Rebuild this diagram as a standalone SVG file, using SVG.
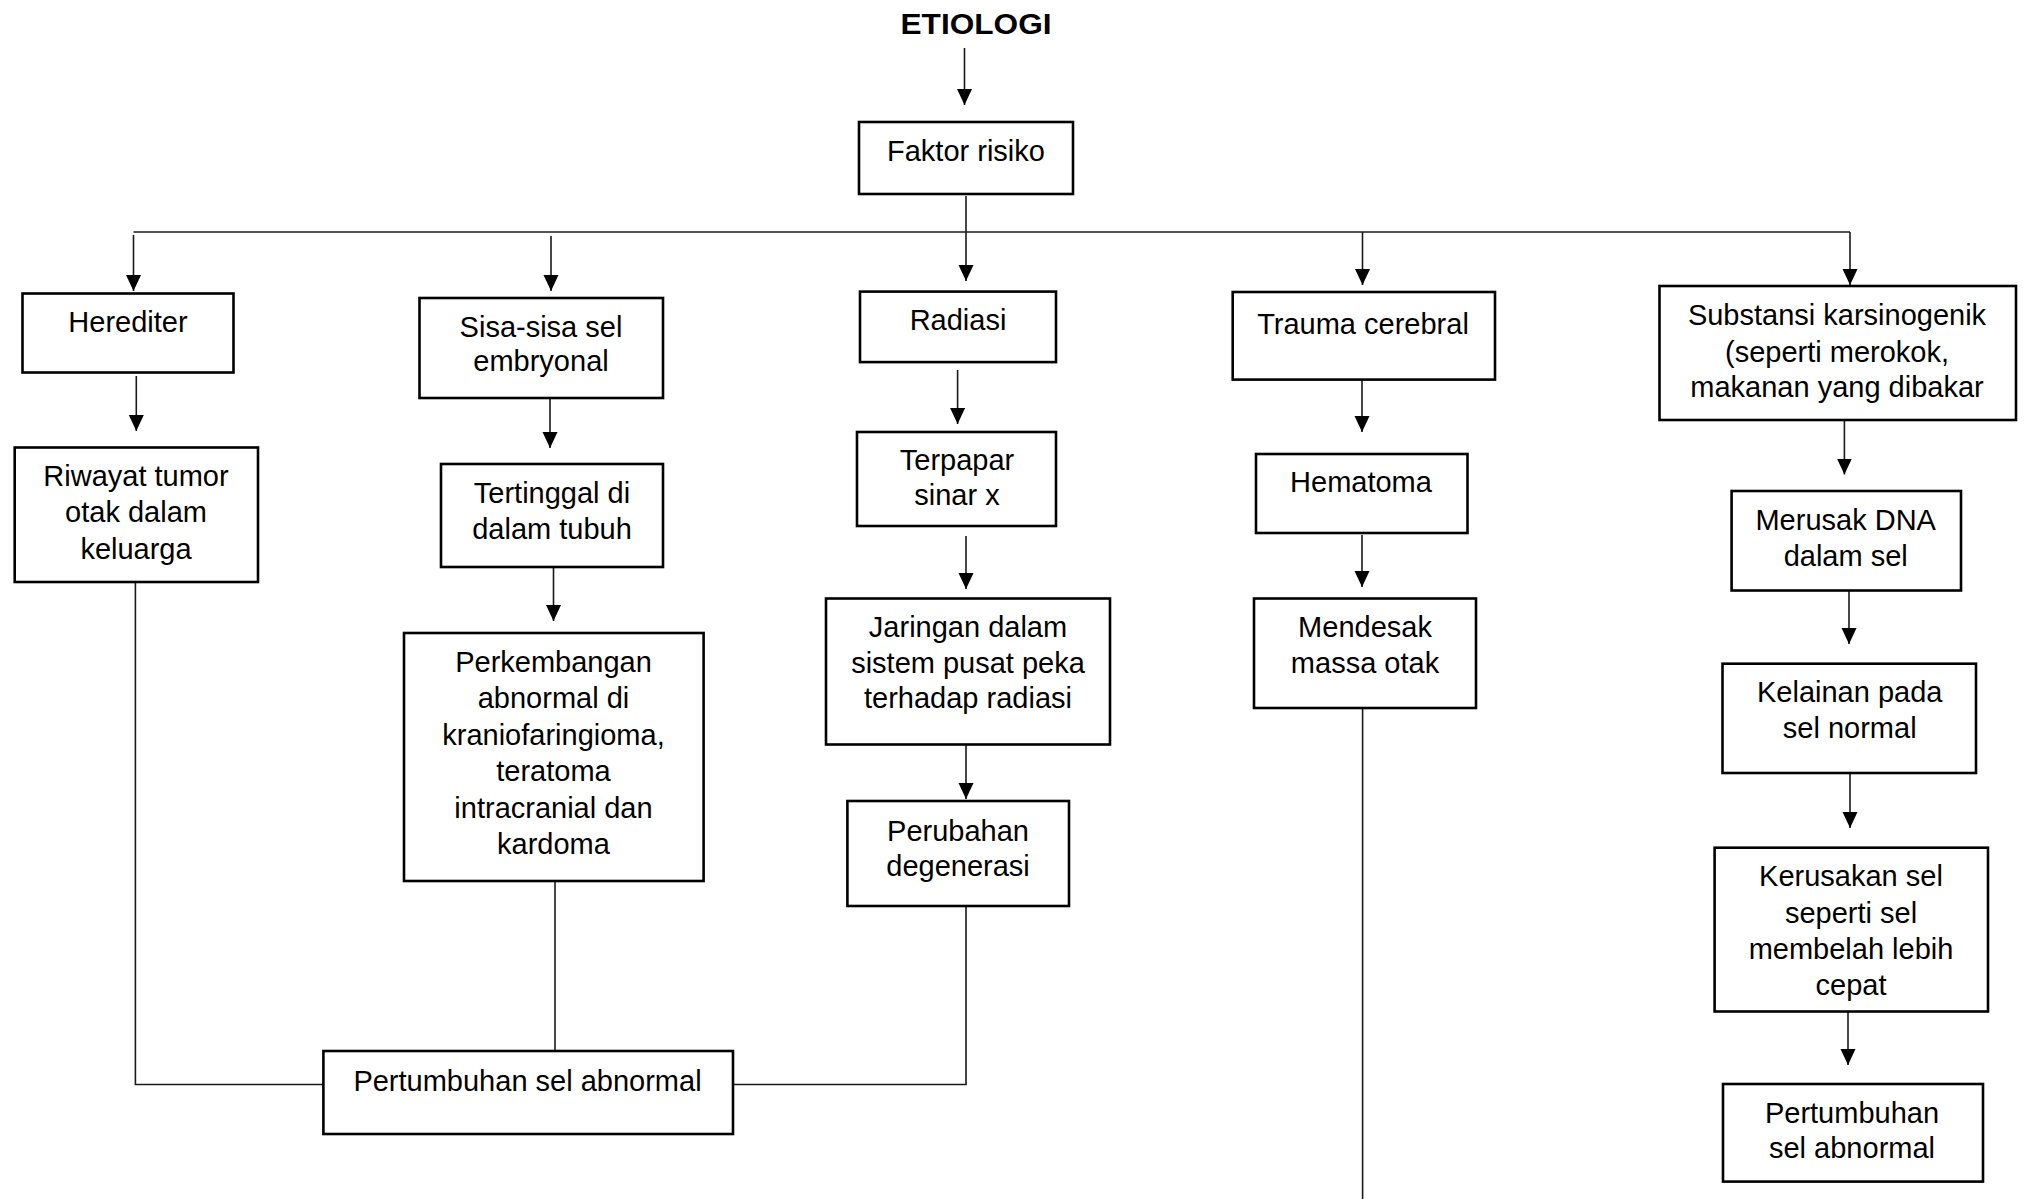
<svg xmlns="http://www.w3.org/2000/svg" width="2028" height="1199" viewBox="0 0 2028 1199">
<defs>
<style>
.box{fill:#fff;stroke:#000;stroke-width:2.6}
.t{font-family:"Liberation Sans",Arial,sans-serif;font-size:29px;fill:#000;text-anchor:middle}
.ttl{font-family:"Liberation Sans",Arial,sans-serif;font-size:29px;font-weight:bold;fill:#000;text-anchor:middle}
.c{fill:none;stroke:#1a1a1a;stroke-width:1.6}
.a{fill:none;stroke:#1a1a1a;stroke-width:1.6;marker-end:url(#ah)}
</style>
<marker id="ah" markerUnits="userSpaceOnUse" markerWidth="16" markerHeight="16" refX="16" refY="7.5" orient="auto">
<path d="M0,0 L16,7.5 L0,15 z" fill="#000"/>
</marker>
</defs>
<rect width="2028" height="1199" fill="#fff"/>
<g id="connectors">
<line class="a" x1="964.5" y1="48" x2="964.5" y2="105"/>
<line class="c" x1="133.5" y1="232" x2="1850" y2="232"/>
<line class="a" x1="966" y1="196" x2="966" y2="281"/>
<line class="a" x1="133.5" y1="235" x2="133.5" y2="291"/>
<line class="a" x1="551" y1="236" x2="551" y2="291"/>
<line class="a" x1="1362.5" y1="232" x2="1362.5" y2="285"/>
<line class="a" x1="1850" y1="232" x2="1850" y2="285"/>
<line class="a" x1="136.3" y1="376" x2="136.3" y2="431"/>
<line class="a" x1="550" y1="398" x2="550" y2="448"/>
<line class="a" x1="957.6" y1="370" x2="957.6" y2="424"/>
<line class="a" x1="1362" y1="377" x2="1362" y2="432"/>
<line class="a" x1="1844.4" y1="421" x2="1844.4" y2="474.5"/>
<polyline class="c" points="135.4,582 135.4,1084.5 323.4,1084.5"/>
<line class="a" x1="553.5" y1="567" x2="553.5" y2="621"/>
<line class="c" x1="555" y1="881" x2="555" y2="1051"/>
<line class="a" x1="966" y1="536" x2="966" y2="589"/>
<line class="a" x1="966" y1="745" x2="966" y2="799"/>
<polyline class="c" points="966,906 966,1084.5 733,1084.5"/>
<line class="a" x1="1362" y1="535" x2="1362" y2="587"/>
<line class="c" x1="1362.6" y1="708" x2="1362.6" y2="1199"/>
<line class="a" x1="1849" y1="590.5" x2="1849" y2="644"/>
<line class="a" x1="1850" y1="773" x2="1850" y2="828"/>
<line class="a" x1="1848" y1="1011.5" x2="1848" y2="1065"/>
</g>
<g id="etiologi"><text class="ttl" x="976" y="34" textLength="151" lengthAdjust="spacingAndGlyphs">ETIOLOGI</text></g>
<g id="faktor"><rect class="box" x="859" y="122" width="214" height="72"/><text class="t" x="966" y="161">Faktor risiko</text></g>
<g id="herediter"><rect class="box" x="22.5" y="293.5" width="211" height="79"/><text class="t" x="128" y="331.5">Herediter</text></g>
<g id="sisa"><rect class="box" x="419.5" y="298" width="243.5" height="100"/><text class="t" x="541" y="337">Sisa-sisa sel</text><text class="t" x="541" y="371">embryonal</text></g>
<g id="radiasi"><rect class="box" x="860" y="291.6" width="196" height="70.5"/><text class="t" x="958" y="330">Radiasi</text></g>
<g id="trauma"><rect class="box" x="1232.7" y="292" width="262.3" height="87.6"/><text class="t" x="1363" y="334">Trauma cerebral</text></g>
<g id="substansi"><rect class="box" x="1659.5" y="286" width="356.5" height="134"/><text class="t" x="1837" y="325">Substansi karsinogenik</text><text class="t" x="1837" y="361.6">(seperti merokok,</text><text class="t" x="1837" y="397">makanan yang dibakar</text></g>
<g id="riwayat"><rect class="box" x="14.7" y="447.5" width="243.3" height="134.5"/><text class="t" x="136" y="486">Riwayat tumor</text><text class="t" x="136" y="522">otak dalam</text><text class="t" x="136" y="559">keluarga</text></g>
<g id="tertinggal"><rect class="box" x="441" y="464" width="222" height="103"/><text class="t" x="552" y="502.5">Tertinggal di</text><text class="t" x="552" y="539">dalam tubuh</text></g>
<g id="terpapar"><rect class="box" x="857" y="432" width="199" height="94"/><text class="t" x="957" y="470">Terpapar</text><text class="t" x="957" y="505">sinar x</text></g>
<g id="hematoma"><rect class="box" x="1256" y="454" width="211.5" height="79"/><text class="t" x="1361" y="492">Hematoma</text></g>
<g id="merusak"><rect class="box" x="1731.6" y="491" width="229.4" height="99.5"/><text class="t" x="1845.7" y="530">Merusak DNA</text><text class="t" x="1845.7" y="565.6">dalam sel</text></g>
<g id="perkembangan"><rect class="box" x="404" y="633" width="299.6" height="248"/><text class="t" x="553.5" y="672">Perkembangan</text><text class="t" x="553.5" y="708">abnormal di</text><text class="t" x="553.5" y="745">kraniofaringioma,</text><text class="t" x="553.5" y="781">teratoma</text><text class="t" x="553.5" y="817.7">intracranial dan</text><text class="t" x="553.5" y="853.6">kardoma</text></g>
<g id="pertumbuhan1"><rect class="box" x="323.4" y="1051" width="409.6" height="83"/><text class="t" x="527.5" y="1090.5">Pertumbuhan sel abnormal</text></g>
<g id="jaringan"><rect class="box" x="826" y="598.5" width="284" height="146"/><text class="t" x="968" y="636.5">Jaringan dalam</text><text class="t" x="968" y="672.8">sistem pusat peka</text><text class="t" x="968" y="708.3">terhadap radiasi</text></g>
<g id="perubahan"><rect class="box" x="847.4" y="801" width="221.6" height="105"/><text class="t" x="958" y="840.6">Perubahan</text><text class="t" x="958" y="876">degenerasi</text></g>
<g id="mendesak"><rect class="box" x="1254" y="598.5" width="222" height="109.5"/><text class="t" x="1365" y="637">Mendesak</text><text class="t" x="1365" y="672.8">massa otak</text></g>
<g id="kelainan"><rect class="box" x="1722.5" y="663.7" width="253.5" height="109.3"/><text class="t" x="1849.7" y="702">Kelainan pada</text><text class="t" x="1849.7" y="738">sel normal</text></g>
<g id="kerusakan"><rect class="box" x="1714.6" y="847.7" width="273.4" height="163.8"/><text class="t" x="1851" y="886">Kerusakan sel</text><text class="t" x="1851" y="922.7">seperti sel</text><text class="t" x="1851" y="959">membelah lebih</text><text class="t" x="1851" y="994.5">cepat</text></g>
<g id="pertumbuhan2"><rect class="box" x="1723" y="1084" width="260" height="97.6"/><text class="t" x="1852" y="1122.8">Pertumbuhan</text><text class="t" x="1852" y="1158">sel abnormal</text></g>
</svg>
